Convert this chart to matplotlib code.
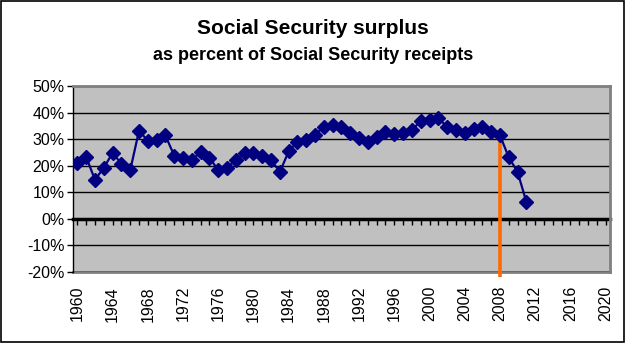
import numpy as np
import matplotlib
matplotlib.use('Agg')
import matplotlib.pyplot as plt
from matplotlib.patches import Rectangle

plt.rcParams['font.family'] = ['Liberation Sans', 'DejaVu Sans']

years = list(range(1960, 2012))
surplus_pct = [21.0, 23.3, 14.7, 19.3, 24.8, 20.8, 18.3, 33.2, 29.4, 29.6,
               31.4, 23.8, 23.1, 22.1, 25.2, 23.1, 18.3, 19.3, 22.1, 24.8,
               24.7, 23.5, 22.2, 17.7, 25.4, 29.1, 29.6, 31.7, 34.7, 35.5,
               34.7, 32.2, 30.4, 29.1, 30.9, 32.9, 31.9, 32.4, 33.5, 36.8,
               37.4, 38.0, 34.6, 33.3, 32.2, 34.0, 34.7, 32.8, 31.5, 23.2,
               17.7, 6.4]
label_years = list(range(1960, 2021, 4))
y_ticks = [50, 40, 30, 20, 10, 0, -10, -20]
marker_year = 2008

fig = plt.figure(figsize=(6.26, 3.43), dpi=100)
fig.patches.append(Rectangle((0.002, 0.003), 0.995, 0.993, transform=fig.transFigure,
                             fill=False, edgecolor='black', linewidth=1.2))

ax = fig.add_axes([0.1166, 0.207, 0.8578, 0.542])
ax.set_facecolor('#C0C0C0')

ax.set_xlim(1959.5, 2020.5)
ax.set_ylim(-20, 50)

for v in y_ticks:
    ax.axhline(v, color='black', linewidth=1, zorder=1)

ax.plot(years, surplus_pct, color='#000080', linewidth=1.6, marker='D',
        markersize=7.5, markerfacecolor='#000080', markeredgecolor='#000080', zorder=4)

# orange line at 2008
ax.plot([marker_year, marker_year],
        [surplus_pct[years.index(marker_year)], -22],
        color='#FF6A00', linewidth=2.6, zorder=3, clip_on=False, solid_capstyle='butt')

ax.set_yticks(y_ticks)
ax.set_yticklabels([f'{v}%' for v in y_ticks], fontsize=11.5)
ax.tick_params(axis='y', direction='out', length=4, width=1, color='black', pad=2)

# category axis at 0%
ax.spines['bottom'].set_position(('data', 0))
ax.spines['bottom'].set_linewidth(2.5)
ax.spines['bottom'].set_zorder(2)
ax.set_xticks(np.arange(1960, 2021))
ax.set_xticklabels([])
ax.tick_params(axis='x', direction='out', length=4, width=1, color='black')

for s in ['top', 'right']:
    ax.spines[s].set_color('#808080')
    ax.spines[s].set_linewidth(2)
ax.spines['left'].set_color('black')
ax.spines['left'].set_linewidth(1)

sec = ax.secondary_xaxis(0.0)
sec.set_xticks(label_years)
sec.set_xticklabels([str(y) for y in label_years], rotation=90, fontsize=11.5)
sec.tick_params(length=0, pad=10)
sec.spines['bottom'].set_color('#808080')
sec.spines['bottom'].set_linewidth(2)

fig.text(0.5, 0.900, 'Social Security surplus', ha='center', va='baseline',
         fontsize=15, fontweight='bold')
fig.text(0.5, 0.825, 'as percent of Social Security receipts', ha='center', va='baseline',
         fontsize=13, fontweight='bold')

fig.savefig('out.png', dpi=100)
